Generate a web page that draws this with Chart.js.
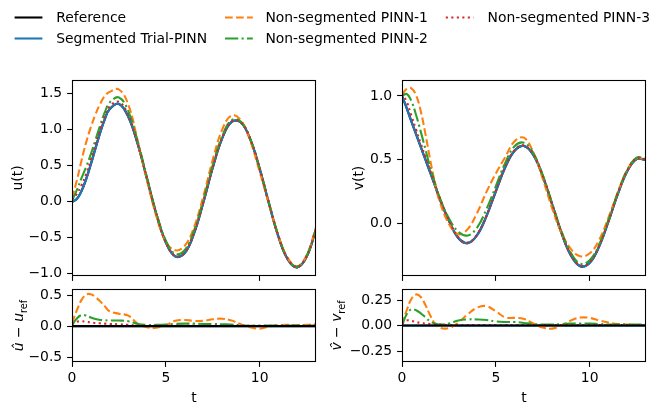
<!DOCTYPE html>
<html><head><meta charset="utf-8">
<script src="https://cdn.jsdelivr.net/npm/chart.js@4.4.0/dist/chart.umd.min.js"></script>
<style>
html,body{margin:0;padding:0;background:#fff;}
body{width:652px;height:403px;position:relative;overflow:hidden;}
canvas{position:absolute;}
</style></head><body>
<canvas id="cU" width="652" height="285" style="left:0px;top:0px"></canvas>
<canvas id="cV" width="322" height="215" style="left:330px;top:70px"></canvas>
<canvas id="cEU" width="330" height="118" style="left:0px;top:285px"></canvas>
<canvas id="cEV" width="322" height="118" style="left:330px;top:285px"></canvas>
<script>
// ---------------- data ----------------
const t = [0,0.25,0.5,0.75,1,1.25,1.5,1.75,2,2.5,3,3.5,4,4.5,5,5.5,6,6.5,7,7.5,8,8.5,9,9.5,10,10.5,11,11.5,12,12.5,13];
const seriesNames = ['Reference','Segmented Trial-PINN','Non-segmented PINN-1','Non-segmented PINN-2','Non-segmented PINN-3'];

const uRef = [0,0.037,0.145,0.311,0.517,0.742,0.960,1.148,1.285,1.358,1.179,0.802,0.313,-0.179,-0.565,-0.758,-0.713,-0.439,-0.007,0.475,0.880,1.109,1.100,0.865,0.456,-0.030,-0.485,-0.802,-0.910,-0.763,-0.384];
const uSeg = [0,0.037,0.145,0.311,0.517,0.742,0.960,1.148,1.285,1.358,1.179,0.802,0.313,-0.179,-0.565,-0.758,-0.713,-0.439,-0.007,0.475,0.880,1.109,1.100,0.865,0.456,-0.030,-0.485,-0.802,-0.910,-0.763,-0.384];
const uP1 = [0.05,0.287,0.565,0.821,1.032,1.212,1.360,1.468,1.525,1.558,1.349,0.842,0.293,-0.204,-0.555,-0.673,-0.613,-0.354,0.078,0.585,1.000,1.199,1.130,0.845,0.416,-0.035,-0.470,-0.782,-0.895,-0.743,-0.354];
const uP2 = [0.02,0.157,0.325,0.481,0.657,0.857,1.060,1.243,1.375,1.448,1.259,0.837,0.333,-0.159,-0.540,-0.723,-0.673,-0.399,0.028,0.510,0.910,1.134,1.110,0.870,0.461,-0.020,-0.475,-0.792,-0.900,-0.753,-0.374];
const uP3 = [0.03,0.107,0.225,0.381,0.577,0.792,1.005,1.188,1.320,1.388,1.199,0.812,0.318,-0.174,-0.560,-0.753,-0.708,-0.434,-0.002,0.480,0.885,1.114,1.105,0.870,0.461,-0.025,-0.480,-0.797,-0.905,-0.758,-0.379];

const vRef = [1.000,0.905,0.800,0.700,0.600,0.500,0.400,0.300,0.195,0.020,-0.115,-0.155,-0.093,0.057,0.252,0.440,0.570,0.607,0.536,0.369,0.148,-0.077,-0.252,-0.336,-0.310,-0.182,0.015,0.231,0.409,0.505,0.497];
const vSeg = [1.000,0.905,0.800,0.700,0.600,0.500,0.400,0.300,0.195,0.020,-0.115,-0.155,-0.093,0.057,0.252,0.440,0.570,0.607,0.536,0.369,0.148,-0.077,-0.252,-0.336,-0.310,-0.182,0.015,0.231,0.409,0.505,0.497];
const vP1 = [1.010,1.055,1.060,1.005,0.880,0.700,0.500,0.320,0.175,-0.005,-0.085,-0.045,0.082,0.247,0.392,0.520,0.645,0.672,0.556,0.349,0.118,-0.077,-0.202,-0.258,-0.235,-0.132,0.045,0.246,0.419,0.510,0.502];
const vP2 = [1.000,1.015,0.960,0.850,0.720,0.580,0.440,0.320,0.205,0.040,-0.065,-0.095,-0.033,0.112,0.292,0.475,0.605,0.632,0.551,0.379,0.158,-0.062,-0.232,-0.316,-0.290,-0.167,0.025,0.241,0.419,0.515,0.507];
const vP3 = [1.020,0.955,0.845,0.735,0.625,0.520,0.415,0.310,0.205,0.025,-0.110,-0.150,-0.088,0.062,0.257,0.445,0.575,0.612,0.541,0.374,0.153,-0.072,-0.247,-0.331,-0.305,-0.177,0.020,0.236,0.414,0.510,0.502];

const eURef = [0,0,0,0,0,0,0,0,0,0,0,0,0,0,0,0,0,0,0,0,0,0,0,0,0,0,0,0,0,0,0];
const eUSeg = [0,0,0,0,0,0,0,0,0,0,0,0,0,0,0,0,0,0,0,0,0,0,0,0,0,0,0,0,0,0,0];
const eUP1 = [0.05,0.25,0.42,0.51,0.515,0.47,0.40,0.32,0.24,0.20,0.17,0.04,-0.02,-0.025,0.01,0.085,0.10,0.085,0.085,0.11,0.12,0.09,0.03,-0.02,-0.04,-0.005,0.015,0.02,0.015,0.02,0.03];
const eUP2 = [0.02,0.12,0.18,0.17,0.14,0.115,0.10,0.095,0.09,0.09,0.08,0.035,0.02,0.02,0.025,0.035,0.04,0.04,0.035,0.035,0.03,0.025,0.01,0.005,0.005,0.01,0.01,0.01,0.01,0.01,0.01];
const eUP3 = [0.03,0.07,0.08,0.07,0.06,0.05,0.045,0.04,0.035,0.03,0.02,0.01,0.005,0.005,0.005,0.005,0.005,0.005,0.005,0.005,0.005,0.005,0.005,0.005,0.005,0.005,0.005,0.005,0.005,0.005,0.005];

const eVRef = [0,0,0,0,0,0,0,0,0,0,0,0,0,0,0,0,0,0,0,0,0,0,0,0,0,0,0,0,0,0,0];
const eVSeg = [0,0,0,0,0,0,0,0,0,0,0,0,0,0,0,0,0,0,0,0,0,0,0,0,0,0,0,0,0,0,0];
const eVP1 = [0.01,0.15,0.26,0.305,0.28,0.20,0.10,0.02,-0.02,-0.025,0.03,0.11,0.175,0.19,0.14,0.08,0.075,0.065,0.02,-0.02,-0.03,0.0,0.05,0.078,0.075,0.05,0.03,0.015,0.01,0.005,0.005];
const eVP2 = [0.0,0.11,0.16,0.15,0.12,0.08,0.04,0.02,0.01,0.02,0.05,0.06,0.06,0.055,0.04,0.035,0.035,0.025,0.015,0.01,0.01,0.015,0.02,0.02,0.02,0.015,0.01,0.01,0.01,0.01,0.01];
const eVP3 = [0.02,0.05,0.045,0.035,0.025,0.02,0.015,0.01,0.01,0.005,0.005,0.005,0.005,0.005,0.005,0.005,0.005,0.005,0.005,0.005,0.005,0.005,0.005,0.005,0.005,0.005,0.005,0.005,0.005,0.005,0.005];

const xTicks = [0,5,10];
const uTicks = [-1.0,-0.5,0,0.5,1.0,1.5];
const vTicks = [0,0.5,1.0];
const eUTicks = [-0.5,0,0.5];
const eVTicks = [-0.25,0,0.25];

// ---------------- styles ----------------
const FONT = '"DejaVu Sans", "Liberation Sans", sans-serif';
const FS = 13.9;
const LW = 2.08;
const styles = [
  {borderColor:'#000000', borderDash:[], borderWidth:LW},
  {borderColor:'#1f77b4', borderDash:[], borderWidth:LW+0.2},
  {borderColor:'#ff7f0e', borderDash:[7.7,3.3], borderWidth:LW},
  {borderColor:'#2ca02c', borderDash:[13.3,3.3,2.1,3.3], borderWidth:LW},
  {borderColor:'#d62728', borderDash:[2.1,3.4], borderWidth:LW}
];

function fmt(v, d){ const s = Math.abs(v).toFixed(d); return (v < -1e-9 ? '\u2212' : '') + s; }

const framePlugin = {
  id:'frame',
  afterDraw(chart){
    const a = chart.chartArea, c = chart.ctx;
    c.save(); c.strokeStyle='#000'; c.lineWidth=1.1;
    c.strokeRect(Math.round(a.left)+0.5, Math.round(a.top)+0.5, Math.round(a.right-a.left)-1, Math.round(a.bottom-a.top)-1);
    c.restore();
  }
};

const textPlugin = {
  id:'axtext',
  afterDraw(chart, args, opts){
    const c = chart.ctx;
    (opts.items||[]).forEach(it=>{
      c.save(); c.translate(it.x, it.y); c.rotate(it.rot||0);
      c.fillStyle='#000'; c.textBaseline='alphabetic';
      const f = p => (p.it?'italic ':'') + (p.sub?FS*0.7:FS) + 'px ' + FONT;
      let W = 0;
      it.parts.forEach(p=>{ c.font=f(p); p.w=c.measureText(p.s).width; W+=p.w; });
      let cx = -W/2;
      it.parts.forEach(p=>{ c.font=f(p); c.fillText(p.s, cx, p.sub?3.5:0); cx+=p.w; });
      c.restore();
    });
  }
};

const legendPlugin = {
  id:'figlegend',
  afterDraw(chart, args, opts){
    if(!opts.show) return;
    const c = chart.ctx;
    const lineX = [14.6,225,445.8], textX = [56.2,265.4,487.5], rowY = [17.5,38.5];
    chart.data.datasets.slice().sort((a,b)=>a.legendIndex-b.legendIndex).forEach((ds,i)=>{
      const col = Math.floor(i/2), row = i%2;
      const y = rowY[row];
      c.save();
      c.strokeStyle = ds.borderColor; c.lineWidth = LW; c.setLineDash(ds.borderDash||[]);
      c.beginPath(); c.moveTo(lineX[col], y); c.lineTo(lineX[col]+27.8, y); c.stroke();
      c.setLineDash([]);
      c.fillStyle='#000'; c.font=FS+'px '+FONT; c.textBaseline='middle'; c.textAlign='left';
      c.fillText(ds.label, textX[col], y+0.5);
      c.restore();
    });
  }
};

function makePlot(id, series, o){
  const datasets = series.map((arr,i)=>Object.assign({
    label: seriesNames[i], legendIndex:i,
    data: arr.map((y,k)=>({x:t[k], y:y})),
    pointRadius:0, pointHoverRadius:0, tension:0.4, fill:false,
    order: o.order[i], clip: 0
  }, styles[i]));
  const tickFont = {family: FONT, size: FS};
  const grid = {drawOnChartArea:false, drawTicks:true, tickLength:4.9, tickColor:'#000', tickWidth:1.1};
  const zeroPad = s => { s.paddingTop=0; s.paddingBottom=0; s.paddingLeft=0; s.paddingRight=0; };
  return new Chart(document.getElementById(id), {
    type:'line',
    data:{datasets},
    options:{
      responsive:false, animation:false, events:[], devicePixelRatio:1,
      layout:{padding:o.pad, autoPadding:false},
      plugins:{legend:{display:false}, tooltip:{enabled:false},
        axtext:{items:o.titles}, figlegend:{show:!!o.legend}},
      scales:{
        x:{type:'linear', min:0, max:13, grid:grid, border:{display:false},
          ticks:{color:'#000', font:tickFont, padding:3.6, maxRotation:0, autoSkip:false,
            callback: v => o.xLabels ? String(v) : ''},
          afterBuildTicks: s => { s.ticks = xTicks.map(v=>({value:v})); },
          afterFit: s => { s.height = o.xH; zeroPad(s); }
        },
        y:{type:'linear', min:o.ymin, max:o.ymax, grid:grid, border:{display:false},
          ticks:{color:'#000', font:tickFont, padding:4.9, autoSkip:false,
            callback: v => fmt(v, o.dec)},
          afterBuildTicks: s => { s.ticks = o.yt.map(v=>({value:v})); },
          afterFit: s => { s.width = o.yW; zeroPad(s); }
        }
      }
    },
    plugins:[framePlugin, textPlugin, legendPlugin]
  });
}

const topOrder = [5,4,3,2,1];
const errOrder = [0,5,4,3,2];

makePlot('cU', [uRef,uSeg,uP1,uP2,uP3], {
  order: topOrder, pad:{left:0, top:80, right:336, bottom:0}, yW:72, xH:9,
  ymin:-1.03, ymax:1.69, yt:uTicks, dec:1, xLabels:false, legend:true,
  titles:[{x:22, y:178, rot:-Math.PI/2, parts:[{s:'u(t)'}]}]
});
makePlot('cV', [vRef,vSeg,vP1,vP2,vP3], {
  order: topOrder, pad:{left:0, top:10, right:6, bottom:0}, yW:72, xH:9,
  ymin:-0.413, ymax:1.125, yt:vTicks, dec:1, xLabels:false,
  titles:[{x:33, y:108, rot:-Math.PI/2, parts:[{s:'v(t)'}]}]
});
makePlot('cEU', [eURef,eUSeg,eUP1,eUP2,eUP3], {
  order: errOrder, pad:{left:0, top:4, right:14, bottom:0}, yW:72, xH:41,
  ymin:-0.58, ymax:0.60, yt:eUTicks, dec:1, xLabels:true,
  titles:[{x:23, y:40.5, rot:-Math.PI/2, parts:[{s:'\u00fb',it:true},{s:' \u2212 '},{s:'u',it:true},{s:'ref',sub:true}]},
          {x:194, y:116.5, rot:0, parts:[{s:'t'}]}]
});
makePlot('cEV', [eVRef,eVSeg,eVP1,eVP2,eVP3], {
  order: errOrder, pad:{left:0, top:4, right:6, bottom:0}, yW:72, xH:41,
  ymin:-0.357, ymax:0.358, yt:eVTicks, dec:2, xLabels:true,
  titles:[{x:11, y:40.5, rot:-Math.PI/2, parts:[{s:'v\u0302',it:true},{s:' \u2212 '},{s:'v',it:true},{s:'ref',sub:true}]},
          {x:194, y:116.5, rot:0, parts:[{s:'t'}]}]
});
</script>
</body></html>
